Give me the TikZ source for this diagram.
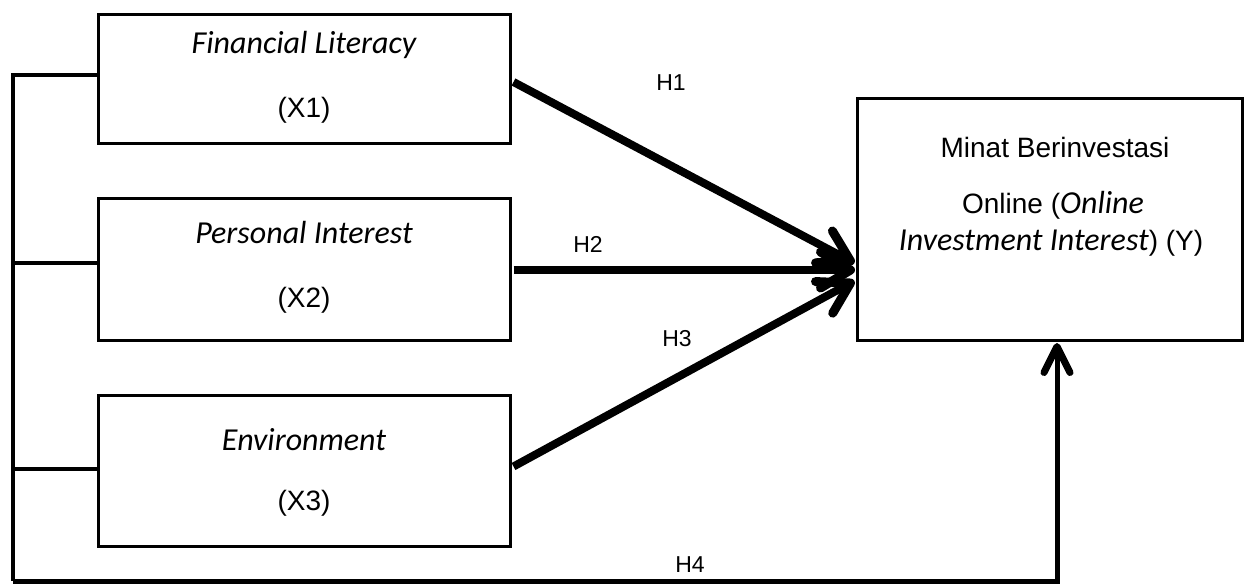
\documentclass[tikz,border=0pt]{standalone}
\usepackage{fontspec}
\setmainfont{Liberation Sans}
\newfontfamily\carl{Carlito}
\usetikzlibrary{calc,decorations.markings}
\newcommand{\itcarl}{\carl\itshape\fontsize{32}{38}\selectfont}
\begin{document}
\begin{tikzpicture}[x=1pt,y=-1pt,
  box/.style={draw,line width=3pt,minimum width=#1,inner sep=0pt},
  arial/.style={font=\fontsize{28}{33}\selectfont},
  ital/.style={font=\itcarl},
  hlab/.style={font=\fontsize{23}{28}\selectfont},
  bracket/.style={line width=4pt},
  harrow/.style={line width=8pt,postaction={decorate},
    decoration={markings,mark=at position 1 with {\draw[line width=9pt,line cap=round,line join=round] (-30,18) -- (0,0) -- (-30,-18);}}},
  varrow/.style={line width=5pt,line join=miter,postaction={decorate},
    decoration={markings,mark=at position 1 with {\draw[line width=7pt,line cap=round,line join=round] (-26,13) -- (0,0) -- (-26,-13);}}}
]
\useasboundingbox (0,0) rectangle (1244,584);
% boxes
\node[box=412pt,minimum height=129pt] (X1) at (304,79) {};
\node[box=412pt,minimum height=142pt] (X2) at (304,269) {};
\node[box=412pt,minimum height=151pt] (X3) at (304,470.5) {};
\node[box=385pt,minimum height=242pt] (Y) at (1049.5,219) {};
% texts
\node[ital] (t1a) at (304,45) {Financial Literacy};
\node[arial] (t1b) at (304,110) {(X1)};
\node[ital] (t2a) at (304,233) {Personal Interest};
\node[arial] (t2b) at (304,300) {(X2)};
\node[ital] (t3a) at (304,440) {Environment};
\node[arial] (t3b) at (304,503) {(X3)};
\node[arial] (ty1) at (1055,147) {Minat Berinvestasi};
\node[arial] (ty2) at (1053,205) {Online ({\itcarl Online}};
\node[arial] (ty3) at (1051,243) {{\itcarl Investment Interest}) (Y)};
% labels
\node[hlab] (h1) at (671,83) {H1};
\node[hlab] (h2) at (588,244) {H2};
\node[hlab] (h3) at (677,339) {H3};
\node[hlab] (h4) at (690,565) {H4};
% coordinates
\coordinate (cb) at (13,581);
\coordinate (cr) at (1057,581);
% bracket
\draw[bracket] ($(X1.west)+(0,-4)$) -| (cb);
\draw[bracket] ($(X2.west)+(0,-6)$) -- ($(X2.west)+(-85,-6)$);
\draw[bracket] ($(X3.west)+(0,-2)$) -- ($(X3.west)+(-85,-2)$);
\draw[varrow] (cb) -- (cr) -- ($(Y.south -| cr)+(0,5)$);
% arrows
\draw[harrow] ($(X1.east)+(2,3)$) -- ($(Y.west)+(-5,42)$);
\draw[harrow] ($(X2.east)+(2,1)$) -- ($(Y.west)+(-5,51)$);
\draw[harrow] ($(X3.east)+(2,-4)$) -- ($(Y.west)+(-5,64)$);
\end{tikzpicture}
\end{document}
